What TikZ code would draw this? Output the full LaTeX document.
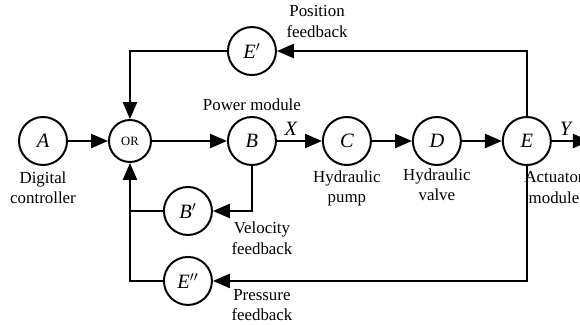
\documentclass[tikz,border=0pt]{standalone}
\usepackage{fontspec}
\setmainfont{Liberation Serif}
\usetikzlibrary{arrows.meta,positioning}

\begin{document}
\begin{tikzpicture}[
  blk/.style={draw, circle, line width=1.4pt, minimum size=1.2cm, inner sep=0pt, font=\fontsize{14.5}{16}\selectfont\itshape},
  gate/.style={draw, circle, line width=1.4pt, minimum size=1.05cm, inner sep=0pt, font=\fontsize{9}{10}\selectfont},
  lbl/.style={align=center, inner sep=1pt, font=\fontsize{12}{14.5}\selectfont},
  sig/.style={-{Triangle[length=12pt, width=10pt]}, line width=1.4pt},
  wire/.style={line width=1.4pt},
  node distance=1cm,
]
  \useasboundingbox (-1.075,-4.575) rectangle (13.425,3.525);

  % Forward path
  \node[blk] (A) {A};
  \node[gate, right=1cm of A] (OR) {OR};
  \node[blk, right=1.875cm of OR] (B) {B};
  \node[blk, right=1.125cm of B] (C) {C};
  \node[blk, right=1cm of C] (D) {D};
  \node[blk, right=1cm of D] (E) {E};
  \coordinate[right=0.95cm of E] (out);

  % Feedback blocks
  \node[blk, above=1cm of B] (Ep) {E$'$};
  \node[blk, below=0.5cm of B, xshift=-1.6cm] (Bp) {B$'$};
  \node[blk, below=0.5cm of Bp] (Epp) {E$''$};
  \coordinate (vcorner) at (B |- Bp);
  \coordinate (pcorner) at (B |- Epp);
  \coordinate (join) at (OR |- Bp);

  % Labels
  \node[lbl, below=0.1cm of A] (ctrl) {Digital\\controller};
  \node[lbl, above=0.08cm of B] (pwr) {Power module};
  \node[lbl, below=0.08cm of C] (pump) {Hydraulic\\pump};
  \node[lbl, below=0.03cm of D] (valve) {Hydraulic\\valve};
  \node[lbl, below=0.1cm of E, xshift=0.68cm] (act) {Actuator\\module};
  \node[lbl, above right=0.3cm and 0.2cm of Ep.east] (posfb) {Position\\feedback};
  \node[lbl, below=0.24cm of vcorner, xshift=0.25cm] (velfb) {Velocity\\feedback};
  \node[lbl, below=0.17cm of pcorner, xshift=0.25cm] (prsfb) {Pressure\\feedback};

  % Forward signals
  \draw[sig] (A) -- (OR);
  \draw[sig] (OR) -- (B);
  \draw[sig] (B) -- node[lbl, pos=0.31, above=2pt, font=\fontsize{14.5}{16}\selectfont\itshape] {X} (C);
  \draw[sig] (C) -- (D);
  \draw[sig] (D) -- (E);
  \draw[sig] (E) -- node[lbl, pos=0.36, above=2pt, font=\fontsize{14.5}{16}\selectfont\itshape] {Y} (out);

  % Feedback loops
  \draw[sig] (E) |- (Ep);
  \draw[sig] (Ep) -| (OR);
  \draw[sig] (B) |- (Bp);
  \draw[sig] (Bp) -| (OR);
  \draw[sig] (E) |- (Epp);
  \draw[wire] (Epp) -| (join);
\end{tikzpicture}
\end{document}
